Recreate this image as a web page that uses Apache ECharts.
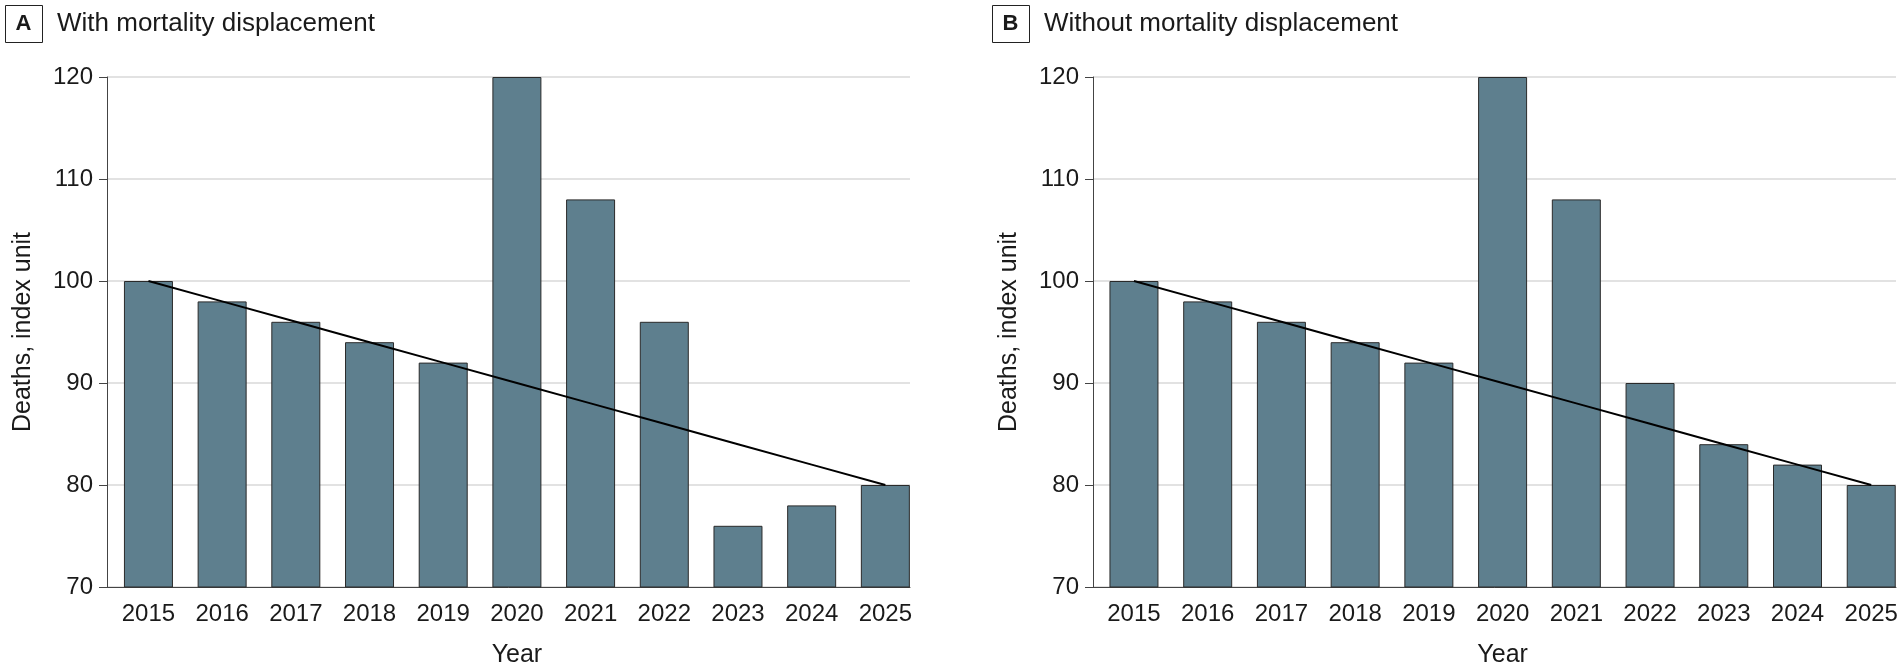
<!DOCTYPE html>
<html>
<head>
<meta charset="utf-8">
<script src="https://cdn.jsdelivr.net/npm/echarts@6/dist/echarts.min.js"></script>
<style>
html,body{margin:0;padding:0;background:#fff;}
#c{width:1903px;height:669px;}
</style>
</head>
<body>
<div id="c"></div>
<script>
const years = ['2015','2016','2017','2018','2019','2020','2021','2022','2023','2024','2025'];
const withDisplacement = [100, 98, 96, 94, 92, 120, 108, 96, 76, 78, 80];
const withoutDisplacement = [100, 98, 96, 94, 92, 120, 108, 90, 84, 82, 80];
const trendLine = [100, 98, 96, 94, 92, 90, 88, 86, 84, 82, 80];
const yTicks = [70, 80, 90, 100, 110, 120];
const panelLetters = ['A', 'B'];
const panelTitles = ['With mortality displacement', 'Without mortality displacement'];
const yName = 'Deaths, index unit';
const xName = 'Year';

const FONT = '"Liberation Sans", Arial, sans-serif';
const BAR = '#5e7f8e';
const GRIDC = '#d9d9d9';
const AXC = '#444';
const TXT = '#1a1a1a';
const YMIN = yTicks[0], YMAX = yTicks[yTicks.length - 1];

const panels = [
  {frameLeft: 107, barLeft: 111.6, barWidth: 810.6, data: withDisplacement, boxX: 5},
  {frameLeft: 1093, barLeft: 1097.1, barWidth: 811, data: withoutDisplacement, boxX: 992}
];
const TOP = 77, H = 510, FRAMEW = 803;

const grid = [], xAxis = [], yAxis = [], series = [], graphic = [];
panels.forEach((p, i) => {
  const gFrame = grid.length;
  grid.push({left: p.frameLeft, top: TOP, width: FRAMEW, height: H, containLabel: false, outerBoundsMode: 'none'});
  xAxis.push({gridIndex: gFrame, type: 'value', min: 0, max: 1,
    axisLine: {show: true, onZero: false, lineStyle: {color: AXC, width: 1}},
    axisTick: {show: false}, axisLabel: {show: false}, splitLine: {show: false}});
  yAxis.push({gridIndex: gFrame, type: 'value', min: YMIN, max: YMAX, interval: 10,
    name: yName, nameLocation: 'middle', nameGap: 71,
    nameTextStyle: {fontFamily: FONT, fontSize: 25, color: TXT},
    axisLine: {show: true, lineStyle: {color: AXC, width: 1}},
    axisTick: {show: true, length: 8, lineStyle: {color: AXC}},
    axisLabel: {fontFamily: FONT, fontSize: 24, color: TXT, margin: 14},
    splitLine: {show: true, lineStyle: {color: GRIDC, width: 1.5}}});
  const gBar = grid.length;
  grid.push({left: p.barLeft, top: TOP, width: p.barWidth, height: H, containLabel: false, outerBoundsMode: 'none'});
  xAxis.push({gridIndex: gBar, type: 'category', data: years,
    name: xName, nameLocation: 'middle', nameGap: 56,
    nameTextStyle: {fontFamily: FONT, fontSize: 25, color: TXT},
    axisLine: {show: false}, axisTick: {show: false},
    axisLabel: {fontFamily: FONT, fontSize: 24, color: TXT, margin: 15}});
  yAxis.push({gridIndex: gBar, type: 'value', min: YMIN, max: YMAX, show: false});
  series.push({type: 'bar', xAxisIndex: gBar, yAxisIndex: gBar, data: p.data, barWidth: 49,
    itemStyle: {color: BAR, borderColor: '#2a2a2a', borderWidth: 1}, silent: true, z: 2});
  series.push({type: 'line', xAxisIndex: gBar, yAxisIndex: gBar, data: trendLine,
    symbol: 'none', lineStyle: {color: '#000', width: 2}, silent: true, z: 3});
  graphic.push({type: 'rect', left: p.boxX, top: 5,
    shape: {width: 37, height: 37}, style: {fill: '#fff', stroke: '#222', lineWidth: 1}});
  graphic.push({type: 'text', x: p.boxX + 18.5, y: 24,
    style: {text: panelLetters[i], font: 'bold 22px ' + FONT, fill: TXT, textAlign: 'center', textVerticalAlign: 'middle'}});
  graphic.push({type: 'text', x: p.boxX + 52, y: 24,
    style: {text: panelTitles[i], font: '26px ' + FONT, fill: TXT, textAlign: 'left', textVerticalAlign: 'middle'}});
});

const chart = echarts.init(document.getElementById('c'), null, {renderer: 'canvas'});
chart.setOption({animation: false, backgroundColor: '#fff', grid, xAxis, yAxis, series, graphic});
</script>
</body>
</html>
